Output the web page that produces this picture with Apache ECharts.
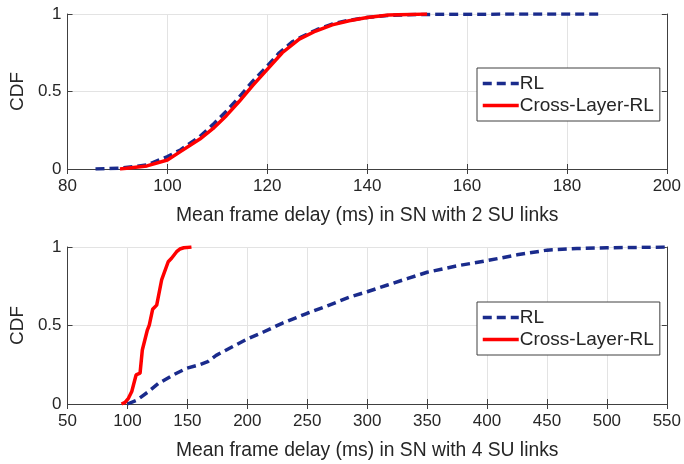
<!DOCTYPE html>
<html>
<head>
<meta charset="utf-8">
<script src="https://cdn.jsdelivr.net/npm/echarts@6/dist/echarts.min.js"></script>
<style>
  html, body { margin: 0; padding: 0; background: #fff; }
  #chart { width: 684px; height: 464px; }
</style>
</head>
<body>
<div id="chart"></div>
<script>
// Empirical CDFs of mean frame delay (ms): [delay, cumulative probability]
const rl2 = [[85.6,0],[90.5,0.005],[95.9,0.026],[100,0.08],[102.6,0.123],[106.5,0.21],[109.1,0.286],[111.8,0.372],[114.4,0.465],[117.1,0.567],[120,0.664],[122.4,0.75],[125,0.82],[127,0.855],[130,0.9],[133,0.935],[136,0.957],[140,0.978],[144,0.99],[150,0.997],[160,0.999],[187,1]];
const cross2 = [[90.5,0],[95.9,0.02],[100,0.058],[102.6,0.112],[106.5,0.193],[109.1,0.26],[111.8,0.344],[114.4,0.437],[117.1,0.539],[120,0.643],[123,0.75],[126.4,0.838],[129.7,0.89],[133,0.93],[136.4,0.956],[140,0.978],[144.3,0.993],[152,1]];
const rl4 = [[100,0],[107.8,0.025],[117.4,0.078],[125.7,0.13],[138.1,0.185],[149.2,0.227],[160,0.25],[167,0.27],[174,0.31],[200,0.414],[213,0.457],[229,0.514],[250,0.578],[265,0.62],[285,0.68],[300,0.715],[317,0.758],[334,0.8],[350,0.839],[375,0.88],[400,0.913],[425,0.95],[450,0.98],[475,0.99],[500,0.995],[550,1]];
const cross4 = [[95,0],[98,0.01],[100.8,0.036],[103.6,0.08],[107.2,0.185],[110.5,0.196],[112.4,0.344],[116.6,0.471],[118.2,0.503],[121,0.603],[124.4,0.63],[128.5,0.79],[134,0.906],[136.8,0.928],[141,0.97],[143.7,0.987],[147,0.995],[153.4,1]];

const seriesNames = ['RL', 'Cross-Layer-RL'];
const xTitles = ['Mean frame delay (ms) in SN with 2 SU links', 'Mean frame delay (ms) in SN with 4 SU links'];
const xRanges = [[80, 200, 20], [50, 550, 50]];
const yTicks = [0, 0.5, 1];

const FONT = 'Liberation Sans, Arial, Helvetica, sans-serif';
const TXT = '#262626';
const AXIS = '#404040';
const GRIDC = '#e3e3e3';
const BLUE = '#1a2b8c';
const RED = '#ff0000';

const grids = [
  { left: 67, right: 14, top: 14, height: 155 },
  { left: 67, right: 14, top: 247, height: 157 }
];

const xAxes = [], yAxes = [];
[0, 1].forEach(g => {
  const [mn, mx, step] = xRanges[g];
  xAxes.push({
    type: 'value', gridIndex: g, min: mn, max: mx, interval: step, position: 'bottom',
    name: xTitles[g], nameLocation: 'middle', nameGap: 37,
    nameTextStyle: { color: TXT, fontSize: 19.3, fontFamily: FONT },
    axisLine: { show: true, lineStyle: { color: AXIS, width: 1 } },
    axisTick: { show: true, inside: true, length: 5, lineStyle: { color: AXIS } },
    axisLabel: { color: TXT, fontSize: 17, fontFamily: FONT, margin: 9 },
    splitLine: { show: true, lineStyle: { color: GRIDC, width: 1 } }
  });
  xAxes.push({
    type: 'value', gridIndex: g, min: mn, max: mx, interval: step, position: 'top',
    axisLine: { show: true, lineStyle: { color: AXIS, width: 1 } },
    axisTick: { show: true, inside: true, length: 5, lineStyle: { color: AXIS } },
    axisLabel: { show: false }, splitLine: { show: false }
  });
  yAxes.push({
    type: 'value', gridIndex: g, min: 0, max: 1, interval: 0.5, position: 'left',
    name: 'CDF', nameLocation: 'middle', nameGap: 30, nameRotate: 90,
    nameTextStyle: { color: TXT, fontSize: 19, fontFamily: FONT },
    axisLine: { show: true, lineStyle: { color: AXIS, width: 1 } },
    axisTick: { show: true, inside: true, length: 5, lineStyle: { color: AXIS } },
    axisLabel: { color: TXT, fontSize: 17, fontFamily: FONT, margin: 6,
      formatter: v => (yTicks.includes(v) ? String(v) : '') },
    splitLine: { show: true, lineStyle: { color: GRIDC, width: 1 } }
  });
  yAxes.push({
    type: 'value', gridIndex: g, min: 0, max: 1, interval: 0.5, position: 'right',
    axisLine: { show: true, lineStyle: { color: AXIS, width: 1 } },
    axisTick: { show: true, inside: true, length: 5, lineStyle: { color: AXIS } },
    axisLabel: { show: false }, splitLine: { show: false }
  });
});

function curve(name, data, g, color, dashed) {
  return {
    name, type: 'line', data, xAxisIndex: g * 2, yAxisIndex: g * 2,
    symbol: 'none', smooth: false, z: dashed ? 3 : 4,
    itemStyle: { color },
    lineStyle: { color, width: 3.5, type: dashed ? [9, 5] : 'solid' }
  };
}

const legendBase = {
  orient: 'vertical', left: 477, itemWidth: 36, itemHeight: 4, itemGap: 3,
  padding: [6, 6, 6, 4], borderColor: AXIS, borderWidth: 1, backgroundColor: '#fff',
  itemStyle: { opacity: 0 },
  lineStyle: { width: 3.5 },
  textStyle: { color: TXT, fontSize: 19, fontFamily: FONT, padding: [0, 0, 0, -4] },
  data: seriesNames
};

const option = {
  animation: false,
  backgroundColor: '#fff',
  grid: grids,
  xAxis: xAxes,
  yAxis: yAxes,
  legend: [
    Object.assign({}, legendBase, { top: 68 }),
    Object.assign({}, legendBase, { top: 302 })
  ],
  series: [
    curve(seriesNames[0], rl2, 0, BLUE, true),
    curve(seriesNames[1], cross2, 0, RED, false),
    curve(seriesNames[0], rl4, 1, BLUE, true),
    curve(seriesNames[1], cross4, 1, RED, false)
  ]
};

const chart = echarts.init(document.getElementById('chart'), null, { renderer: 'canvas' });
chart.setOption(option);
</script>
</body>
</html>
